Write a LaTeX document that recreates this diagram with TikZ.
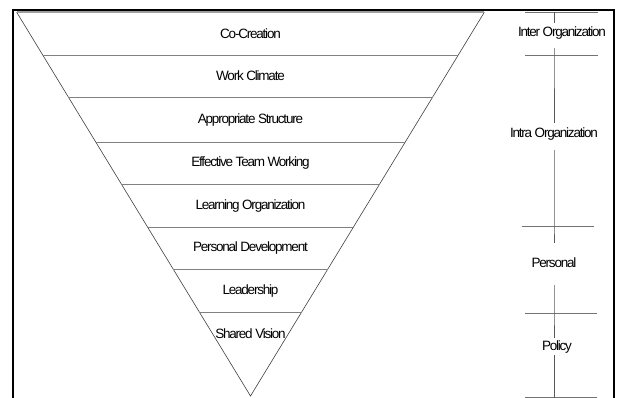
\documentclass[tikz,border=0pt]{standalone}
\usepackage{fontspec}
\usetikzlibrary{calc}
\newfontfamily\labfont[LetterSpace=-9]{Liberation Sans}
\begin{document}
\begin{tikzpicture}[x=1pt,y=-1pt,
  frameline/.style={line width=2pt,black},
  side/.style={line width=0.6pt,draw=black!75},
  band/.style={line width=0.9pt,draw=black!50},
  topband/.style={line width=1.8pt,draw=black!38},
  tick/.style={line width=0.9pt,draw=black!55},
  vline/.style={line width=0.9pt,draw=black!65},
  lab/.style={font=\labfont\fontsize{13.5}{15}\selectfont,inner sep=0pt,text=black}]
\useasboundingbox (0,0) rectangle (622,398);
\clip (0,0) rectangle (622,398);
\fill[white] (0,0) rectangle (622,398);
% frame
\draw[frameline] (13,402) -- (13,10) -- (614,10) -- (614,402);
% triangle
\coordinate (tl) at (16.7,12.3);
\coordinate (tr) at (484.3,12.3);
\coordinate (apex) at (250.5,396);
\draw[side] (tl) -- (apex) -- (tr);
\draw[topband] (tl) -- (tr);
\foreach \n/\yy in {1/55,2/97,3/142,4/184,5/227,6/269,7/312}{
  \pgfmathsetmacro{\t}{(\yy-12.3)/(396-12.3)}
  \coordinate (l\n) at ($(tl)!\t!(apex)$);
  \coordinate (r\n) at ($(tr)!\t!(apex)$);
  \draw[band] (l\n) -- (r\n);
}
% labels
\node[lab] (cocreation) at (250.5,33.5) {Co-Creation};
\node[lab] (climate) at (250.5,76) {Work Climate};
\node[lab] (structure) at (250.5,120) {Appropriate Structure};
\node[lab] (team) at (250.5,163) {Effective Team Working};
\node[lab] (learning) at (250.5,206) {Learning Organization};
\node[lab] (personaldev) at (250.5,248.5) {Personal Development};
\node[lab] (leadership) at (250.5,291) {Leadership};
\node[lab] (vision) at (250.5,334) {Shared Vision};
% right column
\coordinate (t0a) at (525,12.3); \coordinate (t0b) at (598,12.3);
\coordinate (t1a) at (525,55); \coordinate (t1b) at (598,55);
\coordinate (t2a) at (522,226); \coordinate (t2b) at (594,226);
\coordinate (t3a) at (525,313); \coordinate (t3b) at (597,313);
\coordinate (t4a) at (525,397.5); \coordinate (t4b) at (597,397.5);
\foreach \i in {0,1,2,3,4}{\draw[tick] (t\i a) -- (t\i b);}
\node[lab] (inter) at (562,33.5) {Inter Organization};
\node[lab] (intra) at (554,134.5) {Intra Organization};
\node[lab] (personal) at (554,263) {Personal};
\node[lab] (policy) at (557,347) {Policy};
\coordinate (v0) at (554,12.3);
\coordinate (v1) at (554,55);
\coordinate (v2) at (554,226);
\coordinate (v3) at (554,313);
\coordinate (v4) at (554,398);
\draw[vline] (v0) -- (554,23);
\draw[vline] (554,48) -- (v1) -- (554,123);
\draw[vline] (554,150) -- (v2) -- (554,243);
\draw[vline] (554,285) -- (v3) -- (554,338);
\draw[vline] (554,355) -- (v4);
\end{tikzpicture}
\end{document}
